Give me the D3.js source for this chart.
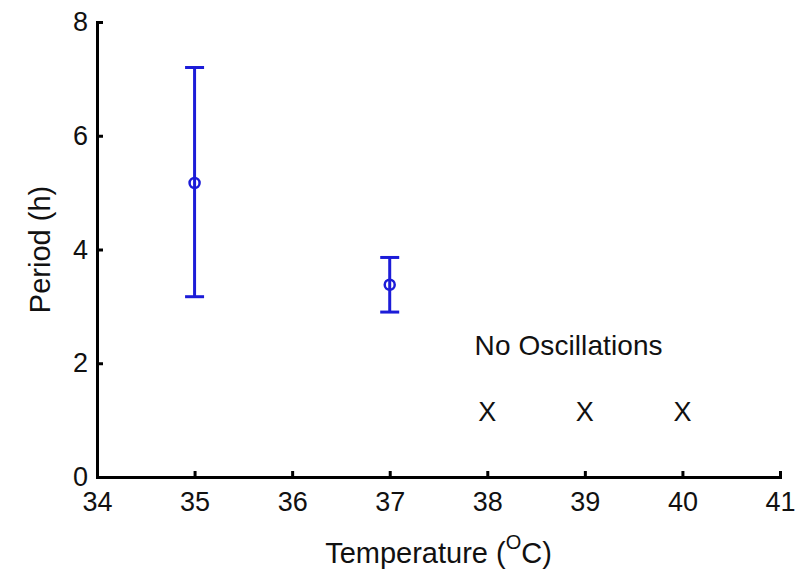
<!DOCTYPE html>
<head>
  <style>
    body {margin: 0; background: #fff;}
    text {font-family: "Liberation Sans", Arial, sans-serif;}
    .axis path, .axis line {stroke: #000; stroke-width: 3;}
    .axis text {font-size: 27px; fill: #111; font-family: "Liberation Sans", Arial, sans-serif;}
  </style>
</head>
<body>
  <script src="https://cdn.jsdelivr.net/npm/d3@7"></script>
  <script>
    // values
    var temps = [35, 37];
    var periodMean = [5.17, 3.38];
    var periodLow = [3.17, 2.9];
    var periodHigh = [7.2, 3.86];
    var noOscTemps = [38, 39, 40];
    var noOscLevel = 1.15;
    var xTicks = [34, 35, 36, 37, 38, 39, 40, 41];
    var yTicks = [0, 2, 4, 6, 8];

    var width = 807, height = 573;
    var margin = {top: 22, right: 27, bottom: 96, left: 97};
    var blue = "#1c1cd8";

    var x = d3.scaleLinear().domain([34, 41]).range([margin.left, width - margin.right]);
    var y = d3.scaleLinear().domain([0, 8]).range([height - margin.bottom, margin.top]);

    var svg = d3.select("body").append("svg")
        .attr("width", width)
        .attr("height", height);

    // axes, ticks pointing inward like matlab
    svg.append("g")
        .attr("class", "axis")
        .attr("transform", "translate(0," + y(0) + ")")
        .call(d3.axisBottom(x).tickValues(xTicks).tickFormat(d3.format("d"))
              .tickSizeInner(-6).tickSizeOuter(0).tickPadding(15));

    svg.append("g")
        .attr("class", "axis")
        .attr("transform", "translate(" + x(34) + ",0)")
        .call(d3.axisLeft(y).tickValues(yTicks).tickFormat(d3.format("d"))
              .tickSizeInner(-6).tickSizeOuter(0).tickPadding(9));

    svg.selectAll(".axis .domain").attr("stroke-linecap", "square");

    // error bars
    var bars = svg.append("g");
    var cap = 9.5;
    temps.forEach(function (t, i) {
      var cx = x(t);
      bars.append("line")
          .attr("x1", cx).attr("x2", cx)
          .attr("y1", y(periodLow[i])).attr("y2", y(periodHigh[i]))
          .attr("stroke", blue).attr("stroke-width", 3);
      [periodLow[i], periodHigh[i]].forEach(function (v) {
        bars.append("line")
            .attr("x1", cx - cap).attr("x2", cx + cap)
            .attr("y1", y(v)).attr("y2", y(v))
            .attr("stroke", blue).attr("stroke-width", 3);
      });
      bars.append("circle")
          .attr("cx", cx).attr("cy", y(periodMean[i]))
          .attr("r", 5)
          .attr("fill", "none")
          .attr("stroke", blue).attr("stroke-width", 2.5);
    });

    // no oscillation markers
    svg.selectAll(".xmark").data(noOscTemps).enter().append("text")
        .attr("class", "xmark")
        .attr("x", function (d) {return x(d);})
        .attr("y", y(noOscLevel))
        .attr("dy", "0.36em")
        .style("text-anchor", "middle")
        .style("font-size", "27px")
        .style("fill", "#111")
        .text("X");

    svg.append("text")
        .attr("x", x(37.87))
        .attr("y", y(2.14))
        .attr("textLength", 188)
        .style("font-size", "28px")
        .style("fill", "#111")
        .text("No Oscillations");

    // axis labels
    var xl = svg.append("text")
        .attr("x", (x(34) + x(41)) / 2)
        .attr("y", 563)
        .style("text-anchor", "middle")
        .style("font-size", "29px")
        .style("fill", "#111");
    xl.append("tspan").text("Temperature (");
    xl.append("tspan").attr("dy", -14).style("font-size", "20px").text("O");
    xl.append("tspan").attr("dy", 14).text("C)");

    svg.append("text")
        .attr("transform", "translate(50," + ((y(0) + y(8)) / 2) + ") rotate(-90)")
        .style("text-anchor", "middle")
        .style("font-size", "29px")
        .style("fill", "#111")
        .text("Period (h)");
  </script>
</body>
